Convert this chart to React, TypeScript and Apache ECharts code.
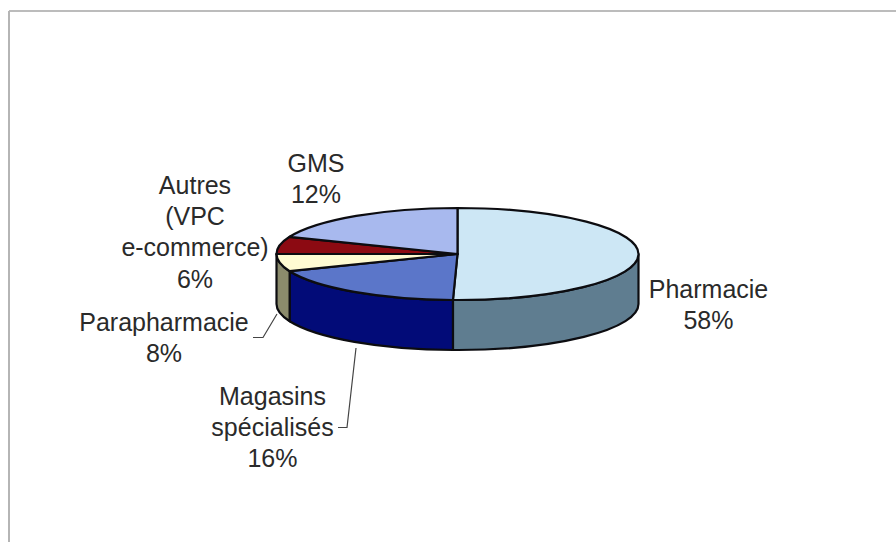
import React, { useEffect, useRef } from "react";
import * as echarts from "echarts";

// Category names and the percentages printed on the chart
const categories = ["Pharmacie", "Magasins\nspécialisés", "Parapharmacie", "Autres\n(VPC\ne-commerce)", "GMS"];
const printedPercents = [58, 16, 8, 6, 12];
// Share of the ellipse each slice actually occupies in the picture (differs from the printed labels)
const drawnShares = [50.4, 18.5, 6.1, 6.1, 18.9];
const topColors = ["#cde7f5", "#5b76c9", "#fffbd2", "#8c0a12", "#a8b9ee"];
const sideColors = ["#5f7d90", "#020b78", "#8b8b6c", "#5a0008", "#6c7aa0"];
// Text anchor (centre x, first line centre y) of each label
const labelX = [708.5, 272.5, 164, 195, 316];
const labelY = [289, 396, 322, 185, 163];

const CX = 457.5, CY = 254, RX = 181, RY = 46, DEPTH = 50;
const FONT_SIZE = 25, LINE_H = 31.2;
const total = drawnShares.reduce((a, b) => a + b, 0);
const angles: number[] = [0];
drawnShares.forEach((v) => angles.push(angles[angles.length - 1] + (v / total) * 360));
const pt = (deg: number, dy = 0) => {
  const r = (deg * Math.PI) / 180;
  return [CX + RX * Math.sin(r), CY - RY * Math.cos(r) + dy];
};

export default function App() {
  const ref = useRef<HTMLDivElement>(null);
  useEffect(() => {
    document.body.style.margin = "0";
    document.body.style.background = "#fff";
    const chart = echarts.init(ref.current!, null, { renderer: "svg" });
    const strokeStyle = { stroke: "#0c0c10", lineWidth: 2.2, lineJoin: "round" };
    const labels = categories.map((c, i) => ({
      type: "text",
      z: 10,
      style: {
        text: `${c}\n${printedPercents[i]}%`,
        x: labelX[i],
        y: labelY[i] - LINE_H / 2,
        fill: "#2a2a2a",
        font: `${FONT_SIZE}px "Liberation Sans", Arial, sans-serif`,
        lineHeight: LINE_H,
        align: "center",
        textAlign: "center",
        textVerticalAlign: "top",
      },
    }));
    chart.setOption({
      animation: false,
      backgroundColor: "#ffffff",
      graphic: [
        { type: "line", shape: { x1: 9, y1: 11, x2: 896, y2: 11 }, style: { stroke: "#a6a6a6", lineWidth: 1.5 } },
        { type: "line", shape: { x1: 9, y1: 11, x2: 9, y2: 542 }, style: { stroke: "#b5b5b5", lineWidth: 2 } },
        { type: "polyline", z: 5, shape: { points: [[253, 337.5], [263, 337.5], [277, 314]] }, style: { stroke: "#444", lineWidth: 1.2, fill: "none" } },
        { type: "polyline", z: 5, shape: { points: [[338, 427.5], [347, 427.5], [356, 348]] }, style: { stroke: "#444", lineWidth: 1.2, fill: "none" } },
        ...labels,
      ],
      series: [
        {
          type: "custom",
          coordinateSystem: "none",
          silent: true,
          z: 1,
          data: drawnShares,
          renderItem: (p: any) => {
            const i = p.dataIndex;
            const a0 = Math.max(angles[i], 90), a1 = Math.min(angles[i + 1], 270);
            if (a1 <= a0) return { type: "group", children: [] };
            const s = pt(a0), e = pt(a1), e2 = pt(a1, DEPTH), s2 = pt(a0, DEPTH);
            return {
              type: "path",
              shape: { pathData: `M${s[0]} ${s[1]}A${RX} ${RY} 0 0 1 ${e[0]} ${e[1]}L${e2[0]} ${e2[1]}A${RX} ${RY} 0 0 0 ${s2[0]} ${s2[1]}Z` },
              style: { fill: sideColors[i], ...strokeStyle },
            };
          },
        },
        {
          type: "custom",
          coordinateSystem: "none",
          silent: true,
          z: 2,
          data: drawnShares,
          renderItem: (p: any) => {
            const i = p.dataIndex;
            const s = pt(angles[i]), e = pt(angles[i + 1]);
            const large = angles[i + 1] - angles[i] > 180 ? 1 : 0;
            return {
              type: "path",
              shape: { pathData: `M${CX} ${CY}L${s[0]} ${s[1]}A${RX} ${RY} 0 ${large} 1 ${e[0]} ${e[1]}Z` },
              style: { fill: topColors[i], ...strokeStyle },
            };
          },
        },
      ],
    });
    return () => chart.dispose();
  }, []);
  return <div ref={ref} style={{ width: 896, height: 542 }} />;
}
